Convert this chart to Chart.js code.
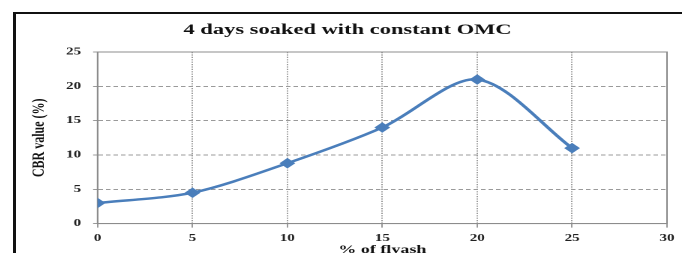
<!DOCTYPE html>
<html>
<head>
<meta charset="utf-8">
<script src="https://cdn.jsdelivr.net/npm/chart.js@4"></script>
<style>
  html, body { margin: 0; padding: 0; background: #fff; }
  body { width: 682px; height: 253px; overflow: hidden; position: relative; }
  #frame {
    position: absolute; left: 13px; top: 12px; width: 700px; height: 260px;
    border-left: 3px solid #111; border-top: 2px solid #111;
  }
  #chart {
    position: absolute; left: 28px; top: 14px;
    transform: scaleX(1.5); transform-origin: 0 0;
  }
</style>
</head>
<body>
<div id="frame"></div>
<canvas id="chart" width="436" height="245"></canvas>
<script>
// values
const flyash = [0, 5, 10, 15, 20, 25];
const cbrValues = [3, 4.5, 8.8, 14, 21, 11];
const xTicks = [0, 5, 10, 15, 20, 25, 30];
const yTicks = [0, 5, 10, 15, 20, 25];

const serif = "'Liberation Serif', 'Times New Roman', serif";

// gray frame on top / right of plot area
const plotFrame = {
  id: "plotFrame",
  beforeDatasetsDraw(chart) {
    const { ctx, chartArea } = chart;
    ctx.save();
    ctx.strokeStyle = "#8c8c8c";
    ctx.lineWidth = 1;
    ctx.strokeRect(chartArea.left, chartArea.top, chartArea.right - chartArea.left, chartArea.bottom - chartArea.top);
    ctx.restore();
  }
};

new Chart(document.getElementById("chart"), {
  type: "line",
  data: {
    datasets: [{
      data: flyash.map((x, i) => ({ x: x, y: cbrValues[i] })),
      borderColor: "#4a7ebb",
      backgroundColor: "#4a7ebb",
      borderWidth: 2.5,
      tension: 0.3,
      pointStyle: "rectRot",
      pointRadius: 3.5,
      pointHoverRadius: 3.5
    }]
  },
  options: {
    responsive: false,
    animation: false,
    devicePixelRatio: 2,
    layout: { padding: { left: 0, right: 10, top: 0, bottom: 0 } },
    plugins: {
      legend: { display: false },
      tooltip: { enabled: false },
      title: {
        display: true,
        text: "4 days soaked with constant OMC",
        color: "#111",
        font: { family: serif, size: 15, weight: "bold" },
        padding: { top: 7, bottom: 13 }
      }
    },
    scales: {
      x: {
        type: "linear",
        min: 0,
        max: 30,
        afterBuildTicks: (axis) => { axis.ticks = xTicks.map(v => ({ value: v })); },
        grid: { color: "#9a9a9a", tickLength: 4 },
        border: { color: "#8c8c8c", dash: [1.2, 1.2] },
        ticks: { color: "#222", padding: 5, maxRotation: 0, font: { family: serif, size: 10, weight: "bold" } },
        title: {
          display: true,
          text: "% of flyash",
          color: "#111",
          font: { family: serif, size: 12, weight: "bold" },
          padding: { top: -7, bottom: 2 }
        }
      },
      y: {
        min: 0,
        max: 25,
        afterBuildTicks: (axis) => { axis.ticks = yTicks.map(v => ({ value: v })); },
        grid: { color: "#9a9a9a", tickLength: 3 },
        border: { color: "#8c8c8c", dash: [3, 2] },
        ticks: { color: "#222", padding: 8, font: { family: serif, size: 10, weight: "bold" } },
        title: {
          display: true,
          text: "CBR value (%)",
          color: "#111",
          font: { family: serif, size: 12, weight: "bold" },
          padding: { top: 0, bottom: 3 }
        }
      }
    }
  },
  plugins: [plotFrame]
});
</script>
</body>
</html>
